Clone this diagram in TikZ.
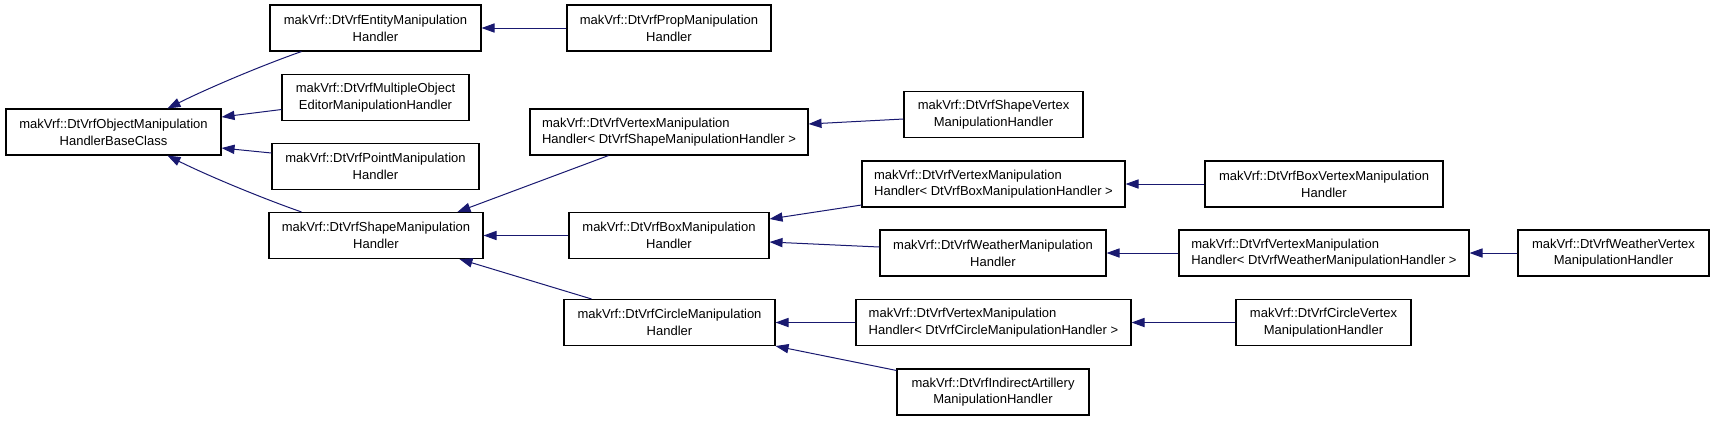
\documentclass[tikz,border=0pt]{standalone}
\usepackage{fontspec}
\setmainfont{Liberation Sans}
\usetikzlibrary{arrows.meta,calc}
\definecolor{edgeblue}{HTML}{191970}
\begin{document}
\begin{tikzpicture}[x=0.5pt,y=-0.5pt,
  cls/.style={draw=black, line width=0.55pt, fill=white, minimum width={#1*0.5pt},
    minimum height=23pt, inner sep=0pt, align=center,
    font=\fontsize{6.5}{8.35}\selectfont},
  edge/.style={draw=edgeblue, line width=0.5pt, -{Triangle[length=6.5pt,width=4.6pt]}}]
\useasboundingbox (0,0) rectangle (1715,420);
% column 1
\node[cls=215] (base) at (113.5,132) {makVrf::DtVrfObjectManipulation\\HandlerBaseClass};
% column 2
\node[cls=211] (ent) at (375.5,28) {makVrf::DtVrfEntityManipulation\\Handler};
\node[cls=187] (mult) at (375.5,97.5) {makVrf::DtVrfMultipleObject\\EditorManipulationHandler};
\node[cls=207] (point) at (375.5,166.5) {makVrf::DtVrfPointManipulation\\Handler};
\node[cls=214] (shape) at (376,235.5) {makVrf::DtVrfShapeManipulation\\Handler};
% column 3
\node[cls=204] (prop) at (669,28) {makVrf::DtVrfPropManipulation\\Handler};
\node[cls=278, align=left] (vshape) at (669,132) {makVrf::DtVrfVertexManipulation\\Handler< DtVrfShapeManipulationHandler >};
\node[cls=200] (box) at (669,235.5) {makVrf::DtVrfBoxManipulation\\Handler};
\node[cls=211] (circle) at (669.5,322.5) {makVrf::DtVrfCircleManipulation\\Handler};
% column 4
\node[cls=179] (svert) at (993.5,114.5) {makVrf::DtVrfShapeVertex\\ManipulationHandler};
\node[cls=263, align=left] (vbox) at (993.5,184) {makVrf::DtVrfVertexManipulation\\Handler< DtVrfBoxManipulationHandler >};
\node[cls=226] (weather) at (993,253) {makVrf::DtVrfWeatherManipulation\\Handler};
\node[cls=275, align=left] (vcircle) at (993.5,322.5) {makVrf::DtVrfVertexManipulation\\Handler< DtVrfCircleManipulationHandler >};
\node[cls=192] (indirect) at (993,392) {makVrf::DtVrfIndirectArtillery\\ManipulationHandler};
% column 5
\node[cls=238] (bvert) at (1324,184) {makVrf::DtVrfBoxVertexManipulation\\Handler};
\node[cls=290, align=left] (vweather) at (1324,253) {makVrf::DtVrfVertexManipulation\\Handler< DtVrfWeatherManipulationHandler >};
\node[cls=175] (cvert) at (1323.5,322.5) {makVrf::DtVrfCircleVertex\\ManipulationHandler};
% column 6
\node[cls=191] (wvert) at (1613.5,253) {makVrf::DtVrfWeatherVertex\\ManipulationHandler};
% edges
\draw[edge] ($(ent.south west)+(32,0)$) .. controls +(-40,14) and +(40,-20) .. ($(base.north west)+(162,0)$);
\draw[edge] ($(mult.west)+(0,12)$) -- ($(base.east)+(0,-15)$);
\draw[edge] ($(point.west)+(0,-13.5)$) -- ($(base.east)+(0,16)$);
\draw[edge] ($(shape.north west)+(33,0)$) .. controls +(-40,-14) and +(40,20) .. ($(base.south west)+(162,0)$);
\draw[edge] (prop.west) -- (ent.east);
\draw[edge] ($(vshape.south west)+(79,0)$) -- ($(shape.north west)+(189,0)$);
\draw[edge] (box.west) -- (shape.east);
\draw[edge] ($(circle.north west)+(28,0)$) -- ($(shape.south west)+(191,0)$);
\draw[edge] ($(svert.west)+(0,4.5)$) -- ($(vshape.east)+(0,-8)$);
\draw[edge] ($(vbox.west)+(0,21)$) -- ($(box.east)+(0,-16.5)$);
\draw[edge] ($(weather.west)+(0,-6)$) -- ($(box.east)+(0,6.5)$);
\draw[edge] (vcircle.west) -- (circle.east);
\draw[edge] ($(indirect.north west)+(0,2)$) -- (circle.south east);
\draw[edge] (bvert.west) -- (vbox.east);
\draw[edge] (vweather.west) -- (weather.east);
\draw[edge] (cvert.west) -- (vcircle.east);
\draw[edge] (wvert.west) -- (vweather.east);
\end{tikzpicture}
\end{document}
